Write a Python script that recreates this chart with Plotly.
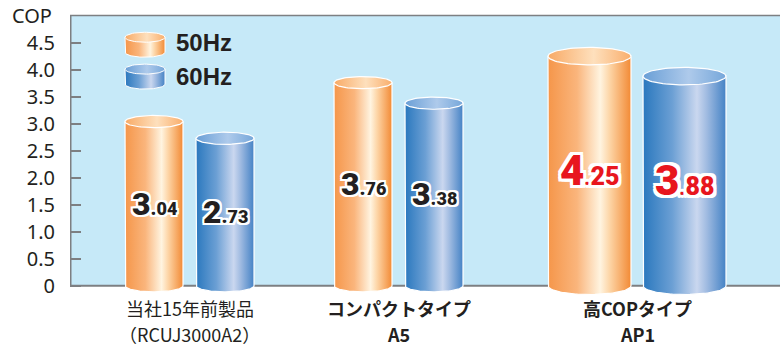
import numpy as np
import plotly.graph_objects as go

# ---- data -------------------------------------------------------------
categories = ["当社15年前製品", "コンパクトタイプ", "高COPタイプ"]
models = ["（RCUJ3000A2）", "A5", "AP1"]
cop_50hz = [3.04, 3.76, 4.25]
cop_60hz = [2.73, 3.38, 3.88]
series_names = ["50Hz", "60Hz"]
y_ticks = [0, 0.5, 1.0, 1.5, 2.0, 2.5, 3.0, 3.5, 4.0, 4.5]
y_tick_labels = ["0", "0.5", "1.0", "1.5", "2.0", "2.5", "3.0", "3.5", "4.0", "4.5"]

# ---- layout constants -------------------------------------------------
W, H = 780, 347
M_L, M_R, M_T, M_B = 70, 0, 14, 45
X_RANGE = [0, W - M_L - M_R]          # x axis measured in pixels
Y_RANGE = [-0.3, 5.03]
Y_TOP = 5.0                           # top edge of the frame
PX_PER_Y = (H - M_T - M_B) / (Y_RANGE[1] - Y_RANGE[0])

group_left = [55, 264, 478]           # left edge of each pair of cylinders
bar_width = [58, 58, 83]
pair_gap = [13, 13, 12]
highlight = [False, False, True]      # red value labels
label_bold = [False, True, True]

BG = "#C6E9F8"
AXIS = "#7D7F82"
INK = "#231F20"
RED = "#E8161E"

body_scales = [
    [[0, "#F5964A"], [0.35, "#FAB57C"], [0.63, "#FFF4E0"], [0.74, "#FDD6A8"], [1, "#F28A35"]],
    [[0, "#2A78BE"], [0.35, "#6B9FD4"], [0.65, "#CAD7EF"], [0.76, "#A3BDE2"], [1, "#4482C5"]],
]
top_scales = [
    [[0, "#F8AA66"], [0.55, "#FEE0BD"], [1, "#F9AE6C"]],
    [[0, "#6A9FD6"], [0.55, "#AECAEB"], [1, "#76A7DA"]],
]


def cylinder(x0, width, value, ry_px, k):
    """Body + top ellipse of one cylinder as two filled scatter traces."""
    rx = width / 2
    xc = x0 + rx
    ry = ry_px / PX_PER_Y
    t = np.linspace(np.pi, 2 * np.pi, 60)
    bx = np.concatenate([[x0], xc + rx * np.cos(t), [x0 + width, x0]])
    by = np.concatenate([[value], ry * np.sin(t), [value, value]])
    s = np.linspace(0, 2 * np.pi, 90)
    tx = xc + rx * np.cos(s)
    ty = value + ry * np.sin(s)
    common = dict(mode="lines", fill="toself", hoverinfo="skip", showlegend=False,
                  line=dict(color="white", width=1.2))
    return [
        go.Scatter(x=bx, y=by, fillgradient=dict(type="horizontal", colorscale=body_scales[k]), **common),
        go.Scatter(x=tx, y=ty, fillgradient=dict(type="horizontal", colorscale=top_scales[k]), **common),
    ]


def outline(px, color="white"):
    offs = [(px, 0), (-px, 0), (0, px), (0, -px), (px, px), (-px, -px), (px, -px), (-px, px)]
    return ", ".join(f"{dx}px {dy}px 0 {color}" for dx, dy in offs)


def value_text(v, big, small):
    whole, frac = f"{v:.2f}".split(".")
    return f"<span style='font-size:{big}px'>{whole}</span>.<span style='font-size:{small}px'>{frac}</span>"


fig = go.Figure()
annotations = []

for i in range(len(categories)):
    w = bar_width[i]
    ry = 0.21 * w / 2
    xs = [group_left[i], group_left[i] + w + pair_gap[i]]
    for k, vals in enumerate([cop_50hz, cop_60hz]):
        v = vals[i]
        for tr in cylinder(xs[k], w, v, ry, k):
            fig.add_trace(tr)
        red = highlight[i]
        annotations.append(dict(
            x=xs[k] + w / 2, y=v / 2, xref="x", yref="y", showarrow=False,
            text=value_text(v, 42 if red else 32, 25 if red else 18),
            font=dict(family="Roboto", weight=900, color=RED if red else INK, size=20,
                      shadow=outline(3 if red else 2)),
            xanchor="center", yanchor="middle",
        ))
    # two-line category label under each pair
    center = group_left[i] + w + pair_gap[i] / 2
    weight = "bold" if label_bold[i] else "normal"
    for line_text, shift in [(categories[i], -6), (models[i], -32)]:
        annotations.append(dict(
            x=center, y=0, xref="x", yref="paper", yshift=shift, showarrow=False,
            text=line_text, xanchor="center", yanchor="middle", borderpad=0,
            font=dict(family="Noto Sans CJK JP", size=18, color=INK, weight=weight),
        ))

# legend: small cylinders with labels inside the frame
legend_x0, legend_w = 55, 40
legend_tops = [4.60, 4.01]
legend_text_y = [4.50, 3.87]
for k, name in enumerate(series_names):
    top = legend_tops[k]
    height = 15 / PX_PER_Y
    rx = legend_w / 2
    ry = 5 / PX_PER_Y
    xc = legend_x0 + rx
    t = np.linspace(np.pi, 2 * np.pi, 40)
    bx = np.concatenate([[legend_x0], xc + rx * np.cos(t), [legend_x0 + legend_w, legend_x0]])
    by = np.concatenate([[top], top - height + ry * np.sin(t), [top, top]])
    s = np.linspace(0, 2 * np.pi, 60)
    common = dict(mode="lines", fill="toself", hoverinfo="skip", showlegend=False,
                  line=dict(color="white", width=1))
    fig.add_trace(go.Scatter(x=bx, y=by, fillgradient=dict(type="horizontal", colorscale=body_scales[k]), **common))
    fig.add_trace(go.Scatter(x=xc + rx * np.cos(s), y=top + ry * np.sin(s),
                             fillgradient=dict(type="horizontal", colorscale=top_scales[k]), **common))
    annotations.append(dict(
        x=legend_x0 + legend_w + 9, y=legend_text_y[k], xref="x", yref="y", showarrow=False,
        text=name, xanchor="left", yanchor="middle",
        font=dict(family="Liberation Sans", size=24, color=INK, weight="bold"),
    ))

# y axis title
annotations.append(dict(
    x=-38 / X_RANGE[1], y=Y_TOP, xref="paper", yref="y", showarrow=False,
    text="COP", xanchor="center", yanchor="middle",
    font=dict(family="Noto Sans", size=20, color=INK),
))

shapes = [
    dict(type="rect", xref="x", yref="y", x0=0, x1=X_RANGE[1], y0=0, y1=Y_TOP,
         fillcolor=BG, line=dict(width=0), layer="below"),
    dict(type="line", xref="x", yref="y", x0=0, x1=X_RANGE[1], y0=0, y1=0,
         line=dict(color=AXIS, width=2), layer="below"),
    dict(type="line", xref="x", yref="y", x0=0, x1=X_RANGE[1], y0=Y_TOP, y1=Y_TOP,
         line=dict(color=AXIS, width=1.5), layer="below"),
    dict(type="line", xref="x", yref="y", x0=0.5, x1=0.5, y0=0, y1=Y_TOP,
         line=dict(color=AXIS, width=2), layer="below"),
]

fig.update_layout(
    width=W, height=H,
    margin=dict(l=M_L, r=M_R, t=M_T, b=M_B, pad=0),
    paper_bgcolor="white", plot_bgcolor="white",
    showlegend=False,
    shapes=shapes,
    annotations=annotations,
    xaxis=dict(range=X_RANGE, visible=False, fixedrange=True),
    yaxis=dict(
        range=Y_RANGE, tickvals=y_ticks, ticktext=y_tick_labels,
        ticks="inside", ticklen=11, tickwidth=1.5, tickcolor=AXIS,
        showgrid=False, zeroline=False, showline=False,
        ticklabelstandoff=14,
        tickfont=dict(family="Noto Sans", size=20, color=INK),
        fixedrange=True,
    ),
)

fig.write_html("out.html")
